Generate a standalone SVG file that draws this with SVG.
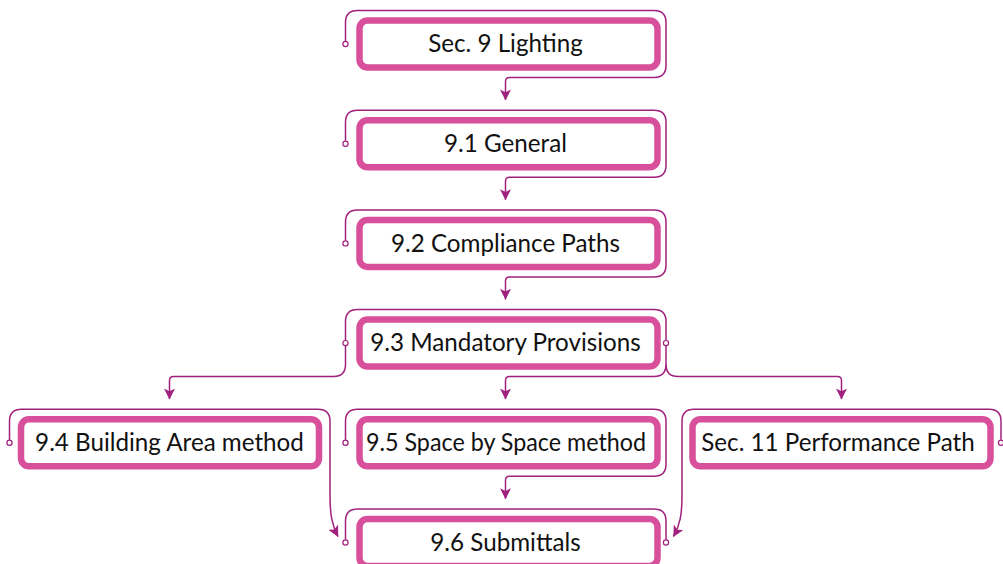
<svg xmlns="http://www.w3.org/2000/svg" width="1003" height="564" viewBox="0 0 1003 564">
<defs>
<marker id="arr" viewBox="0 0 12 12" refX="11.5" refY="6" markerWidth="11" markerHeight="11" markerUnits="userSpaceOnUse" orient="auto">
<path d="M0,0 L12,6 L0,12 L3,6 Z" fill="#A0207E"/>
</marker>
<style>
.box{fill:#fff;stroke:#D8509B;stroke-width:6.5}
.ln{fill:none;stroke:#A0207E;stroke-width:1.5}
.ac{fill:none;stroke:#A0207E;stroke-width:1.5;marker-end:url(#arr)}
.dot{fill:#fff;stroke:#A0207E;stroke-width:1.2}
.t{font-family:Lato,"Open Sans",sans-serif;font-size:24.2px;fill:#111;text-anchor:middle}
</style>
</defs>
<rect width="1003" height="564" fill="#fff"/>
<g id="connectors">
<path class="ac" d="M345.5,41 V22.5 Q345.5,10.5 357.5,10.5 H654 Q666,10.5 666,22.5 V65.5 Q666,77.5 654,77.5 H509.5 Q505.5,77.5 505.5,81.5 V100"/>
<path class="ac" d="M345.5,140.7 V122.2 Q345.5,110.2 357.5,110.2 H654 Q666,110.2 666,122.2 V165.2 Q666,177.2 654,177.2 H509.5 Q505.5,177.2 505.5,181.2 V199.7"/>
<path class="ac" d="M345.5,240.4 V221.9 Q345.5,209.9 357.5,209.9 H654 Q666,209.9 666,221.9 V264.9 Q666,276.9 654,276.9 H509.5 Q505.5,276.9 505.5,280.9 V299.4"/>
<path class="ln" d="M345.5,340.1 V321.6 Q345.5,309.6 357.5,309.6 H654 Q666,309.6 666,321.6 V340.1"/>
<path class="ac" d="M345.5,346.1 V364.6 Q345.5,376.6 333.5,376.6 H173.5 Q169.5,376.6 169.5,380.6 V399.1"/>
<path class="ac" d="M666,346.1 V364.6 Q666,376.6 678,376.6 H837.5 Q841.5,376.6 841.5,380.6 V399.1"/>
<path class="ac" d="M666,364.6 Q666,376.6 654,376.6 H509.5 Q505.5,376.6 505.5,380.6 V399.1"/>
<path class="ac" d="M9.5,439.8 V421.3 Q9.5,409.3 21.5,409.3 H318 Q330,409.3 330,421.3 V495 C330,515 332,525 338,536.5"/>
<path class="ac" d="M345.5,439.8 V421.3 Q345.5,409.3 357.5,409.3 H654 Q666,409.3 666,421.3 V464.3 Q666,476.3 654,476.3 H509.5 Q505.5,476.3 505.5,480.3 V498.8"/>
<path class="ac" d="M1001,439.8 V421.3 Q1001,409.3 989,409.3 H694 Q682,409.3 682,421.3 V495 C682,515 680,525 673.5,536.5"/>
<path class="ln" d="M345.5,539.5 V521 Q345.5,509 357.5,509 H654 Q666,509 666,521 V539.5"/>
</g>
<g id="n1"><rect class="box" x="359.5" y="20.5" width="298" height="47" rx="8"/><circle class="dot" cx="345.5" cy="44" r="2.6"/><text class="t" x="505.5" y="52.3">Sec. 9 Lighting</text></g>
<g id="n2"><rect class="box" x="359.5" y="120.2" width="298" height="47" rx="8"/><circle class="dot" cx="345.5" cy="143.7" r="2.6"/><text class="t" x="505.5" y="152">9.1 General</text></g>
<g id="n3"><rect class="box" x="359.5" y="219.9" width="298" height="47" rx="8"/><circle class="dot" cx="345.5" cy="243.4" r="2.6"/><text class="t" x="505.5" y="251.7">9.2 Compliance Paths</text></g>
<g id="n4"><rect class="box" x="359.5" y="319.6" width="298" height="47" rx="8"/><circle class="dot" cx="345.5" cy="343.1" r="2.6"/><circle class="dot" cx="666" cy="343.1" r="2.6"/><text class="t" x="505.5" y="351.4">9.3 Mandatory Provisions</text></g>
<g id="n5"><rect class="box" x="21" y="419.3" width="298" height="47" rx="8"/><circle class="dot" cx="9.5" cy="442.8" r="2.6"/><text class="t" x="169.5" y="451.1">9.4 Building Area method</text></g>
<g id="n6"><rect class="box" x="359.5" y="419.3" width="298" height="47" rx="8"/><circle class="dot" cx="345.5" cy="442.8" r="2.6"/><text class="t" x="506" y="451.1" textLength="280" lengthAdjust="spacingAndGlyphs">9.5 Space by Space method</text></g>
<g id="n7"><rect class="box" x="692.5" y="419.3" width="298" height="47" rx="8"/><circle class="dot" cx="1001" cy="442.8" r="2.6"/><text class="t" x="838" y="451.1">Sec. 11 Performance Path</text></g>
<g id="n8"><rect class="box" x="359.5" y="519" width="298" height="47" rx="8"/><circle class="dot" cx="345.5" cy="542.5" r="2.6"/><circle class="dot" cx="666" cy="542.5" r="2.6"/><text class="t" x="505.5" y="550.8">9.6 Submittals</text></g>
</svg>
